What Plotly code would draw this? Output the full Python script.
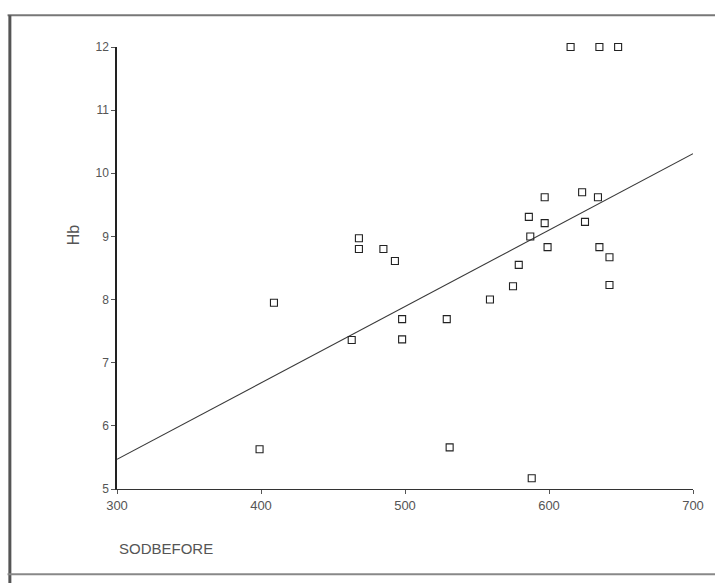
import plotly.graph_objects as go

# Data
sod_before = [399, 409, 463, 468, 468, 485, 493, 498, 498, 529, 531, 559, 575,
              579, 586, 587, 588, 597, 597, 599, 615, 623, 625, 634, 635, 635,
              642, 642, 648]
hb = [5.63, 7.95, 7.36, 8.97, 8.80, 8.80, 8.61, 7.69, 7.37, 7.69, 5.66, 8.00, 8.21,
      8.55, 9.31, 9.00, 5.17, 9.62, 9.21, 8.83, 12.0, 9.70, 9.23, 9.62, 8.83, 12.0,
      8.67, 8.23, 12.0]

# Fitted regression line end points
fit_x = [300, 700]
fit_y = [5.47, 10.31]

x_ticks = [300, 400, 500, 600, 700]
y_ticks = [5, 6, 7, 8, 9, 10, 11, 12]

fig = go.Figure()
fig.add_trace(go.Scatter(x=fit_x, y=fit_y, mode="lines",
                         line=dict(color="#3a3a3a", width=1.1),
                         hoverinfo="skip", showlegend=False, cliponaxis=False))
fig.add_trace(go.Scatter(x=sod_before, y=hb, mode="markers",
                         marker=dict(symbol="square-open", size=7,
                                     color="#222222", line=dict(width=1.1)),
                         showlegend=False, cliponaxis=False))

font_family = "Liberation Sans, Arial, sans-serif"
fig.update_layout(
    width=715, height=583,
    margin=dict(l=117, r=22, t=47, b=94),
    paper_bgcolor="white", plot_bgcolor="white",
    font=dict(family=font_family, color="#555555", size=12),
    xaxis=dict(range=[300, 700], tickvals=x_ticks, ticktext=[str(v) for v in x_ticks],
               showgrid=False, zeroline=False, showline=True, linecolor="#333333",
               linewidth=1, ticks="outside", ticklen=4, tickcolor="#555555",
               tickfont=dict(size=13, color="#555555")),
    yaxis=dict(range=[5, 12], tickvals=y_ticks, ticktext=[str(v) for v in y_ticks],
               showgrid=False, zeroline=False, showline=True, linecolor="#222222",
               linewidth=1.5, ticks="outside", ticklen=4, tickcolor="#555555",
               tickfont=dict(size=12, color="#555555")),
    annotations=[
        dict(text="Hb", xref="paper", yref="paper", x=-0.075, y=0.576,
             xanchor="center", yanchor="middle", textangle=-90, showarrow=False,
             font=dict(size=16, color="#555555", family=font_family)),
        dict(text="SODBEFORE", xref="paper", yref="paper", x=0.0, y=-0.135,
             xanchor="left", yanchor="middle", showarrow=False,
             font=dict(size=15, color="#555555", family=font_family)),
    ],
    shapes=[
        # scanned page frame
        dict(type="line", xref="paper", yref="paper", x0=-0.19, x1=1.04,
             y0=1.072, y1=1.072, line=dict(color="#777777", width=2)),
        dict(type="line", xref="paper", yref="paper", x0=-0.186, x1=-0.186,
             y0=1.072, y1=-0.213, line=dict(color="#555555", width=3)),
        dict(type="line", xref="paper", yref="paper", x0=-0.19, x1=1.04,
             y0=-0.193, y1=-0.193, line=dict(color="#888888", width=2)),
    ],
)

fig.write_html("out.html", config={"displayModeBar": False},
               post_script="document.body.style.margin='0';document.body.style.overflow='hidden';")
